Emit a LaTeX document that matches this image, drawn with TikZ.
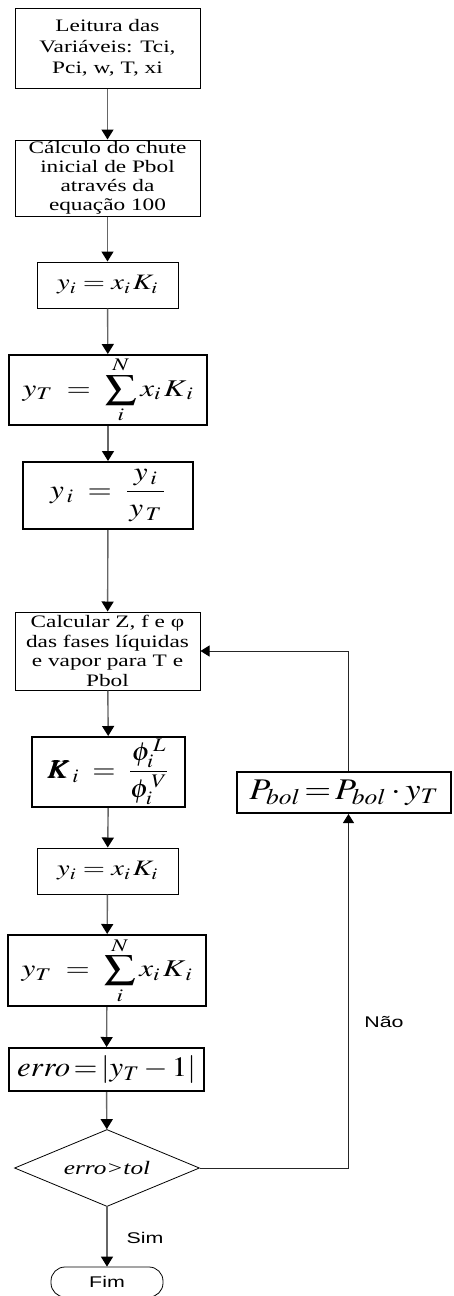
\documentclass[tikz,border=0pt]{standalone}
\usepackage{amsmath}
\usepackage{amsbsy}
\usepackage{mathptmx}
\usepackage[no-math]{fontspec}
\setmainfont[FakeStretch=1.33]{Liberation Serif}
\newfontfamily\sansf[FakeStretch=1.38]{Liberation Sans}
\usepackage{graphicx}
\usetikzlibrary{shapes.geometric,arrows.meta}
\tikzset{
  thinbox/.style={draw, line width=1pt, inner sep=0pt, align=center},
  thickbox/.style={draw, line width=2pt, inner sep=0pt, align=center},
  conn/.style={draw=black!60, line width=1.4pt, -{Triangle[width=12pt,length=10pt,color=black]}},
  loopline/.style={draw=black!85, line width=1pt, -{Triangle[width=11pt,length=9pt,color=black]}},
  txt/.style={font=\fontsize{17.5}{21}\selectfont},
  lbl/.style={font=\sansf\fontsize{15.5}{18}\selectfont, inner sep=0pt}
}
\begin{document}
\begin{tikzpicture}[x=1pt,y=-1pt]
\useasboundingbox (0,0) rectangle (453,1296);
\node[thinbox, txt, minimum width=185pt, minimum height=80pt] (b1) at (107.5,48)
  {Leitura das\\Variáveis: Tci,\\Pci, w, T, xi};
\node[thinbox, font=\fontsize{17.5}{19}\selectfont, minimum width=185pt, minimum height=76pt] (b2) at (107.5,178)
  {Cálculo do chute\\inicial de Pbol\\através da\\equação 100};
\node[thinbox, minimum width=141pt, minimum height=46pt] (b3) at (107.5,285)
  {\fontsize{22}{26}\selectfont\scalebox{1.3}[1]{$y_i = x_{i\,} K_i$}};
\node[thickbox, minimum width=198pt, minimum height=70pt] (b4) at (108,390)
  {\fontsize{24}{28}\selectfont\scalebox{1.3}[1]{$y_T \;=\; \displaystyle\sum_{i}^{N} x_{i\,} K_{\,i}$}};
\node[thickbox, minimum width=170pt, minimum height=67pt] (b5) at (108,495.5)
  {\fontsize{26}{30}\selectfont\scalebox{1.2}[1]{$y_{\,i} \;=\; \dfrac{\;y_{\,i}\;}{y_{\,T}}$}};
\node[thinbox, font=\fontsize{17.5}{19.5}\selectfont, minimum width=185pt, minimum height=78pt] (b6) at (107.5,651)
  {Calcular Z, f e φ\\das fases líquidas\\e vapor para T e\\Pbol};
\node[thickbox, minimum width=153pt, minimum height=70pt] (b7) at (108.5,772)
  {\fontsize{26}{30}\selectfont\scalebox{1.15}[1]{$\pmb{K}_{\,i} \;=\; \dfrac{\phi_i^{\,L}}{\phi_i^{\,V}}$}};
\node[thinbox, minimum width=141pt, minimum height=46pt] (b8) at (107.5,871)
  {\fontsize{22}{26}\selectfont\scalebox{1.3}[1]{$y_i = x_{i\,} K_i$}};
\node[thickbox, minimum width=198pt, minimum height=71pt] (b9) at (107,970.5)
  {\fontsize{24}{28}\selectfont\scalebox{1.3}[1]{$y_T \;=\; \displaystyle\sum_{i}^{N} x_{i\,} K_{\,i}$}};
\node[thickbox, minimum width=195pt, minimum height=43pt] (b10) at (106.5,1069.5)
  {\fontsize{28}{30}\selectfont\scalebox{1.1}[1]{$erro\!=\!\left|y_T - 1\right|$}};
\node[draw, diamond, line width=0.8pt, inner sep=0pt, shape aspect=2.4, minimum width=185pt, minimum height=77pt] (dia) at (107,1168)
  {\fontsize{19}{22}\selectfont\textit{erro>tol}};
\node[draw, line width=0.8pt, rounded corners=14pt, minimum width=112pt, minimum height=30pt, inner sep=0pt, lbl] (fim) at (107,1282) {Fim};
\node[thickbox, minimum width=214pt, minimum height=41pt] (pbol) at (344,792.5)
  {\fontsize{30}{32}\selectfont\scalebox{1.15}[1]{$P_{bol}\!=\!P_{bol}\cdot y_T$}};
\node[lbl] (nao) at (384,1022) {Não};
\node[lbl] (sim) at (145,1238) {Sim};
\coordinate (lx) at (348.5,1168);
\draw[conn] (b1) -- (b2);
\draw[conn] (b2) -- (b3);
\draw[conn] (b3) -- (b4);
\draw[conn] (b4) -- (b5);
\draw[conn] (b5) -- (b6);
\draw[conn] (b6) -- (b7);
\draw[conn] (b7) -- (b8);
\draw[conn] (b8) -- (b9);
\draw[conn] (b9) -- (b10);
\draw[conn] (b10) -- (dia);
\draw[conn] (dia) -- (fim);
\draw[loopline] (dia.east) -- (lx) -- (pbol.south -| lx);
\draw[loopline] (pbol.north -| lx) |- (b6.east);
\end{tikzpicture}
\end{document}
